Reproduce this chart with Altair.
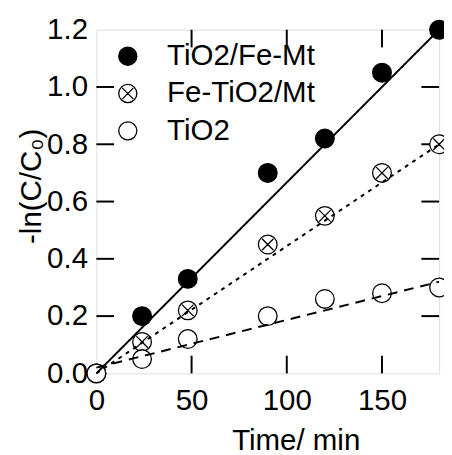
import altair as alt
import pandas as pd

# ---- data ----
time_min = [0, 24, 48, 90, 120, 150, 180]
tio2_fe_mt = [0.0, 0.20, 0.33, 0.70, 0.82, 1.05, 1.20]
fe_tio2_mt = [0.0, 0.11, 0.22, 0.45, 0.55, 0.70, 0.80]
tio2 = [0.0, 0.05, 0.12, 0.20, 0.26, 0.28, 0.30]

series_names = ["TiO2/Fe-Mt", "Fe-TiO2/Mt", "TiO2"]

fit_x = [0, 180]
fit_tio2_fe_mt = [0.0, 1.20]
fit_fe_tio2_mt = [0.0, 0.80]
fit_tio2 = [0.02, 0.32]

x_tick_values = [0, 50, 100, 150]
y_tick_values = [0.0, 0.2, 0.4, 0.6, 0.8, 1.0, 1.2]
x_inner_ticks = [50, 100, 150]
y_inner_ticks = [0.2, 0.4, 0.6, 0.8, 1.0]

# ---- tables ----
rows = []
for name, vals in zip(series_names, [tio2_fe_mt, fe_tio2_mt, tio2]):
    for t, v in zip(time_min, vals):
        rows.append({"series": name, "t": t, "v": v})
pts = pd.DataFrame(rows)

frows = []
for name, vals in zip(series_names, [fit_tio2_fe_mt, fit_fe_tio2_mt, fit_tio2]):
    for t, v in zip(fit_x, vals):
        frows.append({"curve": name, "t": t, "v": v})
fits = pd.DataFrame(frows)

W, H = 349, 350
TL = 18
FONT = "Liberation Sans"
FS = 30

xscale = alt.Scale(domain=[0, 180], nice=False, zero=False)
yscale = alt.Scale(domain=[0, 1.2], nice=False, zero=False)

crossed = "M1,0A1,1,0,1,1,-1,0A1,1,0,1,1,1,0Z M-0.62,-0.62L0.62,0.62 M0.62,-0.62L-0.62,0.62"

xaxis = alt.Axis(values=x_tick_values, format="d", ticks=False, domain=False, grid=False,
                 labelFontSize=FS, labelFont=FONT, labelPadding=13, labelColor="black",
                 labelFlush=False,
                 title="Time/ min", titleFontSize=FS, titleFont=FONT, titleFontWeight="normal",
                 titleX=203, titleY=78, titleBaseline="alphabetic", titleColor="black")
yaxis = alt.Axis(values=y_tick_values, format=".1f", ticks=False, domain=False, grid=False,
                 labelFontSize=FS, labelFont=FONT, labelPadding=9, labelColor="black",
                 labelFlush=False,
                 title="-ln(C/C₀)", titleFontSize=FS, titleFont=FONT, titleFontWeight="normal",
                 titleX=-66, titleY=159, titleBaseline="middle", titleAngle=270, titleColor="black")

leg = alt.Legend(title=None, orient="none", legendX=17, legendY=12,
                 labelFontSize=FS, labelFont=FONT, labelColor="black",
                 symbolSize=340, symbolStrokeWidth=1.3, symbolStrokeColor="black",
                 labelOffset=25, rowPadding=8, padding=0, labelLimit=300)

points = alt.Chart(pts).mark_point(filled=False, size=361, strokeWidth=1.3, opacity=1).encode(
    x=alt.X("t:Q", scale=xscale, axis=xaxis),
    y=alt.Y("v:Q", scale=yscale, axis=yaxis),
    shape=alt.Shape("series:N", scale=alt.Scale(domain=series_names, range=["circle", crossed, "circle"]),
                    legend=leg),
    fill=alt.Fill("series:N", scale=alt.Scale(domain=series_names, range=["black", "white", "white"]),
                  legend=leg),
    stroke=alt.Stroke("series:N", scale=alt.Scale(domain=series_names, range=["black", "black", "black"]),
                      legend=leg),
    order=alt.Order("order:Q"),
).transform_calculate(order="indexof(['TiO2/Fe-Mt','Fe-TiO2/Mt','TiO2'], datum.series)")

lines = alt.Chart(fits).mark_line(color="black", strokeWidth=2).encode(
    x=alt.X("t:Q", scale=xscale),
    y=alt.Y("v:Q", scale=yscale),
    detail="curve:N",
    strokeDash=alt.StrokeDash("curve:N", scale=alt.Scale(domain=series_names,
                              range=[[1, 0], [4, 5], [10, 7]]), legend=None),
)

xt = pd.DataFrame({"t": x_inner_ticks})
yt = pd.DataFrame({"v": y_inner_ticks})

bottom_ticks = alt.Chart(xt).mark_rule(color="black", strokeWidth=2).encode(
    x=alt.X("t:Q", scale=xscale), y=alt.value(H), y2=alt.value(H - TL))
top_ticks = alt.Chart(xt).mark_rule(color="black", strokeWidth=2).encode(
    x=alt.X("t:Q", scale=xscale), y=alt.value(0), y2=alt.value(TL))
left_ticks = alt.Chart(yt).mark_rule(color="black", strokeWidth=2).encode(
    y=alt.Y("v:Q", scale=yscale), x=alt.value(0), x2=alt.value(TL))
right_ticks = alt.Chart(yt).mark_rule(color="black", strokeWidth=2).encode(
    y=alt.Y("v:Q", scale=yscale), x=alt.value(W), x2=alt.value(W - TL))

chart = alt.layer(bottom_ticks, top_ticks, left_ticks, right_ticks, points, lines).properties(
    width=W, height=H,
    autosize=alt.AutoSizeParams(type="none"),
    padding={"left": 90, "top": 18, "right": 5, "bottom": 79},
).resolve_legend(strokeDash="independent").configure_view(stroke="black", strokeWidth=2).configure(background="white")

chart.save("out.html", embed_options={"renderer": "svg", "actions": False})
